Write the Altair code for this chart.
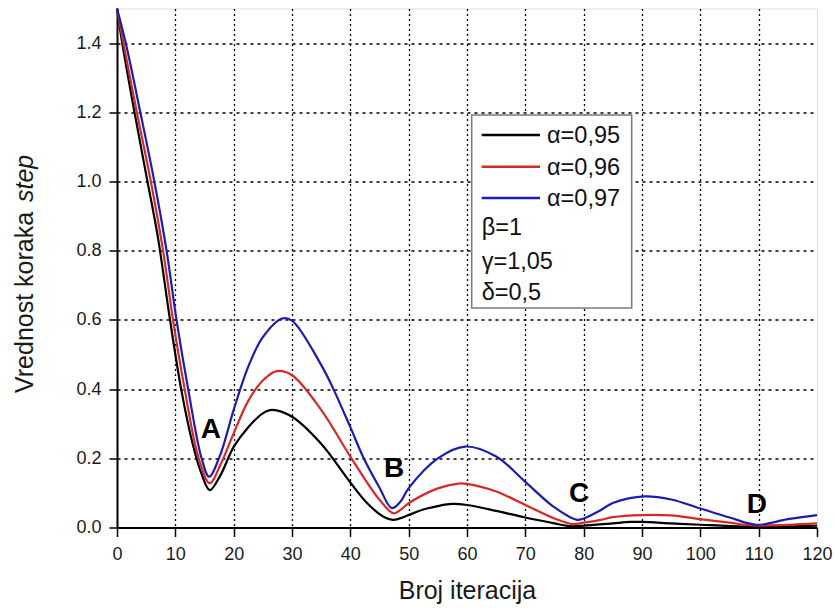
import altair as alt
import pandas as pd

FONT = "Liberation Sans"

# Series labels and line colours
series = ["α=0,95", "α=0,96", "α=0,97"]
colors = ["#000000", "#d42a2a", "#1c1cae"]

# α = 0,95
x_095 = [0, 1, 3, 5, 7, 9, 11, 13, 14.5, 15.9, 17.7, 20, 22.5, 25, 26.6, 30, 35, 40,
         42.9, 45.7, 47.3, 48.6, 50, 52.5, 55, 57.5, 60, 65, 70, 75, 77.5, 80, 85, 88, 90,
         95, 100, 105, 110, 115, 120]
y_095 = [1.5, 1.39, 1.2, 1.02, 0.84, 0.61, 0.4, 0.24, 0.155, 0.108, 0.15, 0.233, 0.29,
         0.33, 0.34, 0.32, 0.242, 0.13, 0.07, 0.031, 0.022, 0.027, 0.036, 0.052, 0.062,
         0.068, 0.065, 0.048, 0.029, 0.012, 0.004, 0.005, 0.012, 0.016, 0.016, 0.012,
         0.008, 0.004, 0.002, 0.003, 0.005]

# α = 0,96
x_096 = [0, 1.1, 3.4, 5.8, 7.9, 9.6, 11.6, 14.0, 15.9, 17.7, 20, 22.5, 25, 27.4, 30, 35,
         40, 45, 47.4, 48.6, 50, 55, 58.5, 60, 65, 70, 75, 78, 80, 82.9, 85, 90, 95,
         100, 105, 109, 115, 120]
y_096 = [1.5, 1.4, 1.2, 1.0, 0.8, 0.6, 0.4, 0.2, 0.128, 0.18, 0.272, 0.366, 0.425,
         0.452, 0.44, 0.34, 0.205, 0.08, 0.041, 0.051, 0.07, 0.113, 0.127, 0.126, 0.104,
         0.065, 0.026, 0.01, 0.014, 0.022, 0.03, 0.036, 0.035, 0.024, 0.014, 0.006,
         0.008, 0.012]

# α = 0,97
x_097 = [0, 1.5, 4.0, 6.4, 8.5, 10.2, 12.2, 14.5, 15.8, 17.7, 20, 22.5, 25, 28.3, 30, 35,
         37.1, 40, 42.3, 45, 47.1, 48.6, 50, 55, 59.7, 65, 70, 75, 78.9, 80, 82.9, 85,
         90.5, 95, 100, 105, 109.7, 115, 120]
y_097 = [1.5, 1.4, 1.2, 1.0, 0.8, 0.6, 0.4, 0.2, 0.147, 0.21, 0.34, 0.465, 0.55, 0.604,
         0.598, 0.47, 0.4, 0.29, 0.2, 0.115, 0.056, 0.075, 0.114, 0.2, 0.234, 0.205,
         0.132, 0.058, 0.022, 0.026, 0.05, 0.071, 0.09, 0.081, 0.055, 0.029, 0.008,
         0.024, 0.036]

# Point labels on the curves
point_labels = ["A", "B", "C", "D"]
point_x = [16.1, 47.5, 79.2, 109.7]
point_y = [0.258, 0.146, 0.074, 0.042]

# Fixed parameters listed in the key box
params = ["β=1", "γ=1,05", "δ=0,5"]

# Axis ticks (major + minor)
x_ticks = list(range(0, 121, 5))
y_ticks = [round(0.1 * i, 1) for i in range(15)]

rows = []
for name, xs, ys in [(series[0], x_095, y_095), (series[1], x_096, y_096), (series[2], x_097, y_097)]:
    for xv, yv in zip(xs, ys):
        rows.append({"iter": xv, "step": yv, "alpha": name})
df = pd.DataFrame(rows)
pts = pd.DataFrame({"lbl": point_labels, "iter": point_x, "step": point_y})
one = pd.DataFrame({"k": [0]})

x_axis = alt.Axis(
    values=x_ticks,
    labelExpr="datum.value % 10 == 0 ? datum.label : ''",
    tickSize={"condition": {"test": "datum.value % 10 == 0", "value": 9}, "value": 6},
    gridOpacity={"condition": {"test": "datum.value % 10 == 0 && datum.value > 0 && datum.value < 120",
                               "value": 1}, "value": 0},
    gridDash=[2, 3], gridColor="#000000", gridWidth=1.3,
    domainColor="#000000", domainWidth=2, tickColor="#000000", tickWidth=1.5,
    labelFont=FONT, labelFontSize=18, labelColor="#1a1a1a", labelPadding=9,
    labelFlush=False, labelOverlap=False,
    title="Broj iteracija", titleFont=FONT, titleFontSize=25, titleFontWeight="normal",
    titleColor="#1a1a1a", titleBaseline="alphabetic", titleY=71,
)
y_axis = alt.Axis(
    values=y_ticks,
    labelExpr="round(datum.value * 10) % 2 == 0 ? format(datum.value, '.1f') : ''",
    tickSize={"condition": {"test": "round(datum.value * 10) % 2 == 0", "value": 8}, "value": 6},
    gridOpacity={"condition": {"test": "round(datum.value * 10) % 2 == 0 && datum.value > 0",
                               "value": 1}, "value": 0},
    gridDash=[3, 4], gridColor="#000000", gridWidth=1.3,
    domainColor="#000000", domainWidth=2, tickColor="#000000", tickWidth=1.5,
    labelFont=FONT, labelFontSize=18, labelColor="#1a1a1a", labelPadding=8,
    labelFlush=False, labelOverlap=False,
    title=None,
)

lines = alt.Chart(df).mark_line(strokeWidth=2.2, interpolate="catmull-rom").encode(
    x=alt.X("iter:Q", scale=alt.Scale(domain=[0, 120], nice=False), axis=x_axis),
    y=alt.Y("step:Q", scale=alt.Scale(domain=[0, 1.5], nice=False), axis=y_axis),
    color=alt.Color("alpha:N", scale=alt.Scale(domain=series, range=colors), legend=None),
    detail="alpha:N",
)

labels = alt.Chart(pts).mark_text(
    font=FONT, fontSize=28, fontWeight="bold", color="#000000",
    align="center", baseline="alphabetic",
).encode(x="iter:Q", y="step:Q", text="lbl:N")

# Key box drawn over the plot
box = alt.Chart(one).mark_rect(fill="white", stroke="#7a7a7a", strokeWidth=1.5).encode(
    x=alt.value(354.7), x2=alt.value(514.7), y=alt.value(106.5), y2=alt.value(299.5)
)
key_layers = [box]
key_rows = [126.5, 158.2, 189.5]
for name, col, yy in zip(series, colors, key_rows):
    key_layers.append(
        alt.Chart(one).mark_rule(color=col, strokeWidth=2.5).encode(
            x=alt.value(364.7), x2=alt.value(423), y=alt.value(yy)
        )
    )
    key_layers.append(
        alt.Chart(one).mark_text(font=FONT, fontSize=23.5, align="left", baseline="middle",
                                 color="#111111", text=name).encode(
            x=alt.value(430), y=alt.value(yy + 1)
        )
    )
for p, yy in zip(params, [219.5, 253.5, 284.5]):
    key_layers.append(
        alt.Chart(one).mark_text(font=FONT, fontSize=23.5, align="left", baseline="middle",
                                 color="#111111", text=p).encode(
            x=alt.value(364.7), y=alt.value(yy)
        )
    )

# Y-axis title with the italic word
ytitle_a = alt.Chart(one).mark_text(font=FONT, fontSize=25, angle=270, align="left",
                                    baseline="alphabetic", color="#1a1a1a",
                                    text="Vrednost koraka").encode(
    x=alt.value(-84), y=alt.value(384.5)
)
ytitle_b = alt.Chart(one).mark_text(font=FONT, fontSize=25, angle=270, align="left",
                                    baseline="alphabetic", fontStyle="italic", color="#1a1a1a",
                                    text="step").encode(
    x=alt.value(-84), y=alt.value(193.5)
)

chart = alt.layer(lines, labels, *key_layers, ytitle_a, ytitle_b).properties(
    width=700, height=519, autosize="none",
    padding={"left": 117, "top": 8.5, "right": 17, "bottom": 81.5},
).configure_view(stroke=None).configure(background="white")

chart.save("out.html", embed_options={"renderer": "svg", "actions": False})
